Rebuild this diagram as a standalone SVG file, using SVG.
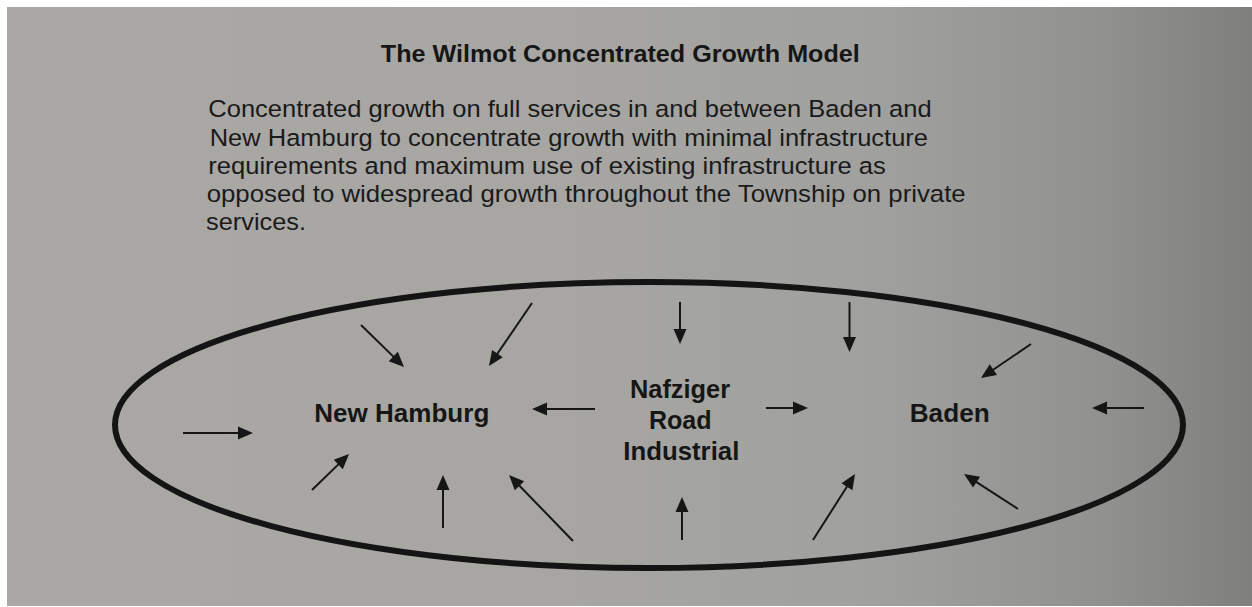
<svg xmlns="http://www.w3.org/2000/svg" width="1252" height="607" viewBox="0 0 1252 607">
  <defs>
    <linearGradient id="paper" x1="0" y1="0" x2="1" y2="0">
      <stop offset="0" stop-color="#aaa8a5"/>
      <stop offset="0.45" stop-color="#a7a6a3"/>
      <stop offset="0.7" stop-color="#a0a09e"/>
      <stop offset="0.88" stop-color="#919190"/>
      <stop offset="1" stop-color="#7f7f7d"/>
    </linearGradient>
    <marker id="head" markerUnits="userSpaceOnUse" markerWidth="15" markerHeight="13" refX="7" refY="6.5" orient="auto" overflow="visible">
      <path d="M0,0 L15,6.5 L0,13 Z" fill="#161616"/>
    </marker>
    <style>
      .title { font-family: "Liberation Sans", Arial, sans-serif; font-weight: bold; font-size: 24.5px; fill: #161616; }
      .body { font-family: "Liberation Sans", Arial, sans-serif; font-size: 24.5px; fill: #1a1a1a; }
      .label { font-family: "Liberation Sans", Arial, sans-serif; font-weight: bold; font-size: 25px; fill: #161616; text-anchor: middle; }
      .arrow { stroke: #161616; stroke-width: 2; fill: none; marker-end: url(#head); }
      .boundary { fill: none; stroke: #141414; stroke-width: 6; }
    </style>
  </defs>

  <!-- page background with white scan margins -->
  <rect x="0" y="0" width="1252" height="607" fill="#ffffff"/>
  <rect x="7" y="7" width="1245" height="599" fill="url(#paper)"/>

  <g id="title">
    <text class="title" x="620.3" y="61.7" text-anchor="middle" textLength="479" lengthAdjust="spacingAndGlyphs">The Wilmot Concentrated Growth Model</text>
  </g>

  <g id="description">
    <text class="body" x="208.3" y="117.3" textLength="723.4" lengthAdjust="spacingAndGlyphs">Concentrated growth on full services in and between Baden and</text>
    <text class="body" x="209.7" y="145.5" textLength="718.3" lengthAdjust="spacingAndGlyphs">New Hamburg to concentrate growth with minimal infrastructure</text>
    <text class="body" x="208.3" y="173.5" textLength="677.4" lengthAdjust="spacingAndGlyphs">requirements and maximum use of existing infrastructure as</text>
    <text class="body" x="206.7" y="201.7" textLength="759" lengthAdjust="spacingAndGlyphs">opposed to widespread growth throughout the Township on private</text>
    <text class="body" x="206" y="230" textLength="100" lengthAdjust="spacingAndGlyphs">services.</text>
  </g>

  <g id="growth-area">
    <ellipse class="boundary" cx="649" cy="425" rx="534" ry="143"/>
  </g>

  <g id="new-hamburg">
    <text class="label" x="401.8" y="422" textLength="175" lengthAdjust="spacingAndGlyphs">New Hamburg</text>
  </g>

  <g id="nafziger-road-industrial">
    <text class="label" x="680" y="398" textLength="100" lengthAdjust="spacingAndGlyphs">Nafziger</text>
    <text class="label" x="680.3" y="428.5" textLength="62.7" lengthAdjust="spacingAndGlyphs">Road</text>
    <text class="label" x="681.3" y="460" textLength="116" lengthAdjust="spacingAndGlyphs">Industrial</text>
  </g>

  <g id="baden">
    <text class="label" x="949.7" y="421.7" textLength="80" lengthAdjust="spacingAndGlyphs">Baden</text>
  </g>

  <!-- inward growth arrows; each line stops at the base of its head -->
  <g id="connectors">
    <line class="arrow" x1="183" y1="433" x2="245" y2="433"/>
    <line class="arrow" x1="361" y1="325" x2="398.3" y2="361.4"/>
    <line class="arrow" x1="532" y1="303" x2="493.5" y2="359.4"/>
    <line class="arrow" x1="312" y1="490" x2="343.3" y2="459.6"/>
    <line class="arrow" x1="443" y1="528" x2="443" y2="483"/>
    <line class="arrow" x1="573" y1="541" x2="514.6" y2="480.7"/>
    <line class="arrow" x1="595" y1="409" x2="540" y2="409"/>
    <line class="arrow" x1="680" y1="302" x2="680" y2="336"/>
    <line class="arrow" x1="682" y1="540" x2="682" y2="505"/>
    <line class="arrow" x1="766" y1="408" x2="800" y2="408"/>
    <line class="arrow" x1="849.5" y1="302" x2="849.5" y2="344"/>
    <line class="arrow" x1="1031" y1="344" x2="987.6" y2="373.5"/>
    <line class="arrow" x1="1144" y1="408" x2="1100" y2="408"/>
    <line class="arrow" x1="1018" y1="509" x2="970.7" y2="478.3"/>
    <line class="arrow" x1="813" y1="540" x2="850.7" y2="480.8"/>
  </g>
</svg>
